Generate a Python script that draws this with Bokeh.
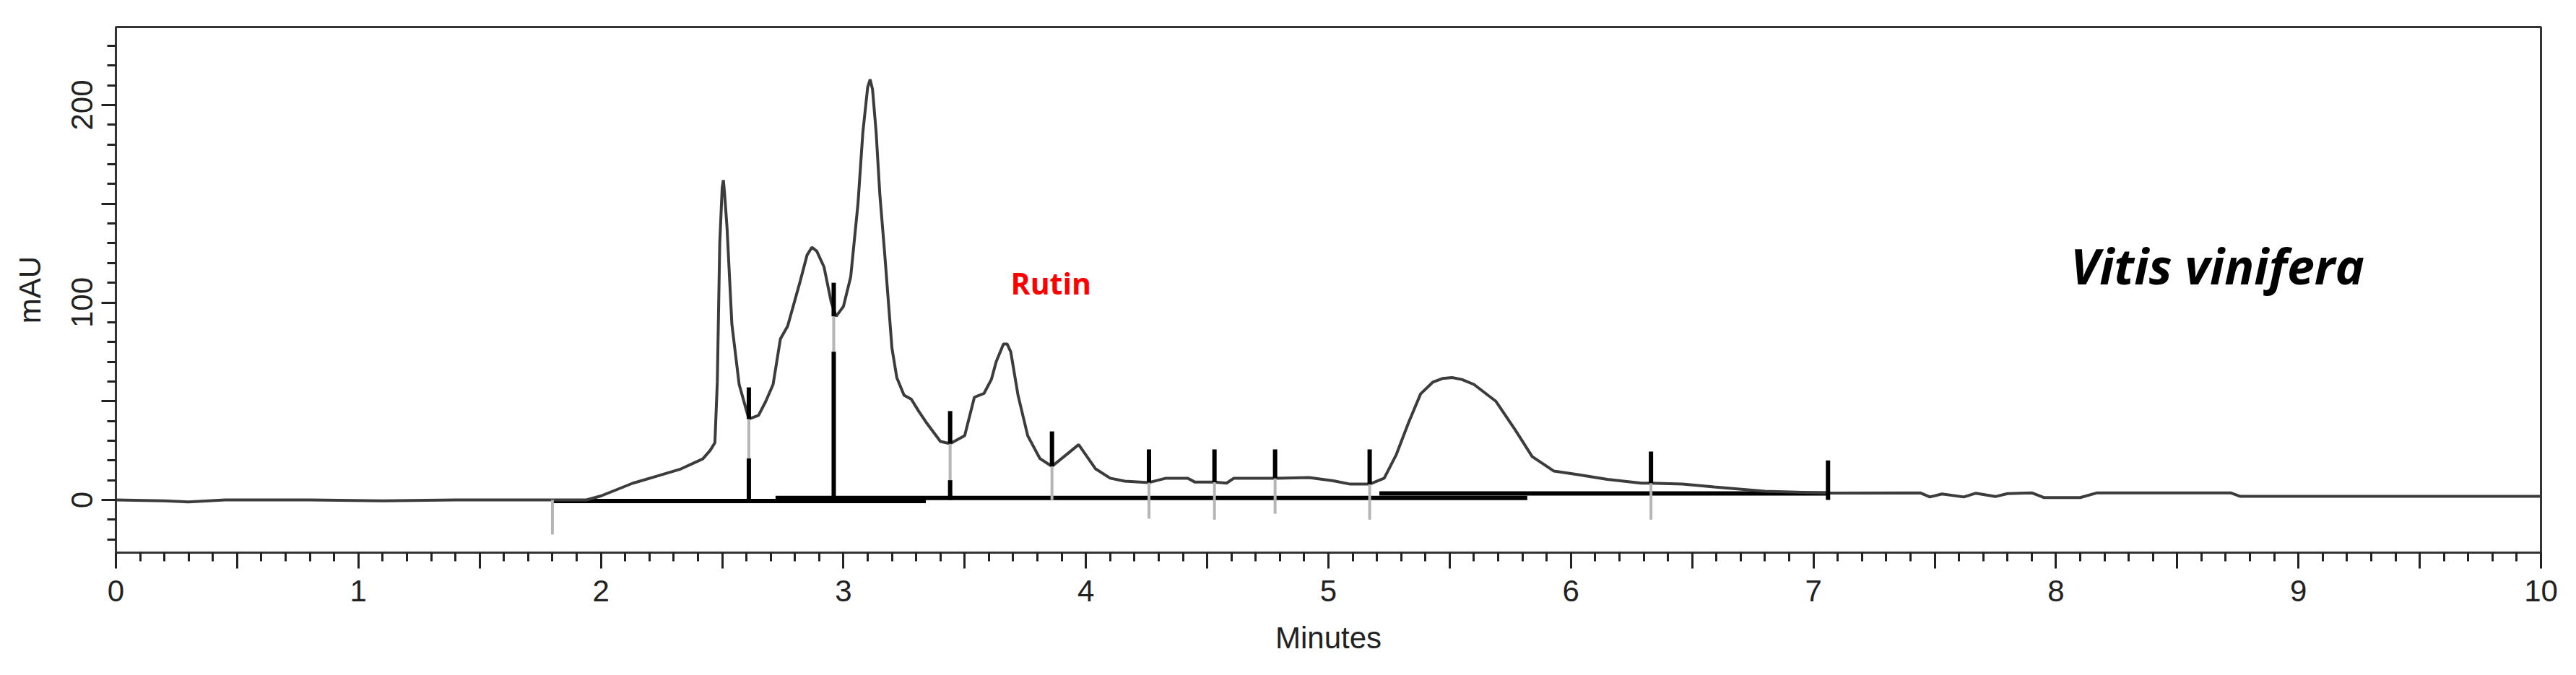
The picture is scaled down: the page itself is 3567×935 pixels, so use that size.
from bokeh.plotting import figure
from bokeh.models import Range1d, FixedTicker, CustomJSTickFormatter, Label, ColumnDataSource
from bokeh.embed import file_html
from bokeh.resources import INLINE

# ---- chromatogram trace (minutes, mAU) ----
time = [0.0, 0.2, 0.3, 0.45, 0.8, 1.1, 1.4, 1.8, 1.94, 2.0, 2.13, 2.23, 2.33, 2.42, 2.45,
        2.47, 2.48, 2.49, 2.50, 2.505, 2.51, 2.52, 2.54, 2.57, 2.61, 2.65, 2.68, 2.71, 2.74,
        2.77, 2.82, 2.85, 2.87, 2.89, 2.92, 2.95, 2.97, 3.00, 3.03, 3.06, 3.08, 3.10, 3.11,
        3.12, 3.135, 3.15, 3.17, 3.20, 3.22, 3.25, 3.28, 3.31, 3.34, 3.40, 3.44, 3.50, 3.54,
        3.58, 3.61, 3.63, 3.66, 3.675, 3.69, 3.72, 3.76, 3.81, 3.86, 3.92, 3.97, 4.04, 4.10,
        4.16, 4.26, 4.33, 4.42, 4.45, 4.53, 4.58, 4.61, 4.78, 4.92, 5.02, 5.09, 5.17, 5.23,
        5.28, 5.33, 5.38, 5.43, 5.47, 5.51, 5.55, 5.60, 5.69, 5.77, 5.84, 5.93, 6.03, 6.15,
        6.29, 6.33, 6.46, 6.59, 6.80, 7.06, 7.44, 7.48, 7.53, 7.62, 7.67, 7.75, 7.80, 7.90,
        7.95, 8.10, 8.17, 8.72, 8.76, 10.0]
signal = [0.0, -0.5, -1.0, 0.0, 0.0, -0.5, 0.0, 0.0, 0.0, 2.0, 8.4, 12.0, 15.7, 20.8, 25.0,
          29.0, 60.0, 130.0, 158.0, 162.0, 155.0, 138.0, 89.0, 58.5, 41.0, 42.8, 50.0, 58.5, 81.5,
          88.0, 110.0, 124.0, 128.0, 126.0, 118.0, 100.0, 93.0, 98.0, 113.0, 150.0, 186.0, 209.0, 213.0,
          208.0, 186.0, 155.0, 125.0, 77.0, 62.0, 53.0, 51.0, 45.0, 39.5, 29.6, 28.5, 32.5, 52.0,
          54.0, 61.0, 70.0, 79.0, 79.0, 75.0, 53.0, 32.5, 21.0, 17.0, 23.0, 28.0, 15.7, 11.0,
          9.5, 8.8, 11.0, 11.0, 9.0, 9.0, 8.5, 11.0, 11.0, 11.3, 9.7, 8.0, 8.0, 11.0,
          23.0, 39.0, 53.7, 59.6, 61.5, 62.0, 61.0, 58.5, 50.0, 35.5, 22.0, 14.6, 12.8, 10.4,
          8.5, 8.5, 8.0, 6.6, 4.4, 3.5, 3.6, 1.5, 3.0, 1.5, 3.4, 1.7, 3.2, 3.6,
          1.2, 1.2, 3.6, 3.6, 1.8, 1.8]

# ---- integration event markers ----
mk_time = [1.80, 2.61, 2.96, 3.44, 3.86, 4.26, 4.53, 4.78, 5.17, 6.33, 7.06]
mk_top = [0.0, 57.0, 110.0, 45.0, 34.7, 25.6, 25.6, 25.6, 25.6, 24.5, 20.0]
mk_mid = [0.0, 41.0, 93.0, 28.5, 17.0, 8.8, 9.0, 11.0, 8.0, 8.5, 0.0]
mk_low = [-17.5, 21.0, 75.0, 10.0, 0.0, -9.5, -10.0, -7.0, -10.0, -10.0, 0.0]

# ---- integration baselines ----
bl_start = [1.80, 2.72, 5.21]
bl_end = [3.34, 5.82, 7.06]
bl_level = [-0.6, 1.0, 3.3]

y_major = [0, 50, 100, 150, 200]
y_minor = [v for v in range(-20, 240, 10)]
x_major = [i * 0.5 for i in range(21)]
x_minor = [i / 10 for i in range(101)]

p = figure(frame_width=3358, frame_height=728,
           x_range=Range1d(0, 10), y_range=Range1d(-26.7, 239.5),
           output_backend="svg", toolbar_location=None,
           min_border_left=160, min_border_right=33, min_border_top=37, min_border_bottom=154,
           background_fill_color="white", border_fill_color="white")
p.xgrid.visible = False
p.ygrid.visible = False
p.outline_line_color = "#333333"
p.outline_line_width = 3
p.outline_line_alpha = 1.0

# baselines
p.segment(x0=bl_start, y0=bl_level, x1=bl_end, y1=bl_level, line_color="black", line_width=6)

# trace
p.line(time, signal, line_color="#3c3c3c", line_width=4)

# markers
src = ColumnDataSource(dict(t=mk_time, top=mk_top, mid=mk_mid, low=mk_low,
                            lowtop=[max(v, 0.0) for v in mk_low], zero=[0.0] * len(mk_time)))
p.segment(x0="t", y0="mid", x1="t", y1="low", source=src, line_color="#b5b5b5", line_width=4)
p.segment(x0="t", y0="top", x1="t", y1="mid", source=src, line_color="black", line_width=6)
p.segment(x0="t", y0="lowtop", x1="t", y1="zero", source=src, line_color="black", line_width=6)

# axes
for ax in (p.xaxis[0], p.yaxis[0]):
    ax.axis_line_color = "#333333"
    ax.axis_line_width = 3
    ax.major_tick_line_color = "#222222"
    ax.minor_tick_line_color = "#222222"
    ax.major_tick_line_width = 3
    ax.minor_tick_line_width = 3
    ax.major_tick_in = 0
    ax.minor_tick_in = 0
    ax.minor_tick_out = 12
    ax.major_label_text_font = "Liberation Sans"
    ax.major_label_text_font_size = "42px"
    ax.major_label_text_color = "#222222"
    ax.axis_label_text_font = "Liberation Sans"
    ax.axis_label_text_font_size = "42px"
    ax.axis_label_text_font_style = "normal"
    ax.axis_label_text_color = "#222222"

p.xaxis.ticker = FixedTicker(ticks=x_major, minor_ticks=x_minor)
p.xaxis.formatter = CustomJSTickFormatter(code="return (Math.abs(tick - Math.round(tick)) < 1e-6) ? Math.round(tick).toString() : '';")
p.xaxis.major_tick_out = 22
p.xaxis.major_label_standoff = 16
p.xaxis.axis_label = "Minutes"
p.xaxis.axis_label_standoff = 24

p.yaxis.ticker = FixedTicker(ticks=y_major, minor_ticks=y_minor)
p.yaxis.formatter = CustomJSTickFormatter(code="return (Math.round(tick) % 100 === 0) ? Math.round(tick).toString() : '';")
p.yaxis.major_tick_out = 20
p.yaxis.major_label_orientation = "vertical"
p.yaxis.major_label_standoff = 12
p.yaxis.axis_label = "mAU"
p.yaxis.axis_label_standoff = 32

p.add_layout(Label(x=3.69, y=110, text="Rutin", text_color="red", text_font="Open Sans",
                   text_font_style="bold", text_font_size="41px", text_baseline="alphabetic"))
p.add_layout(Label(x=8.06, y=119, text="Vitis vinifera", text_color="black", text_font="Open Sans",
                   text_font_style="bold italic", text_font_size="68px", text_baseline="alphabetic"))

open("out.html", "w").write(file_html(p, INLINE))
